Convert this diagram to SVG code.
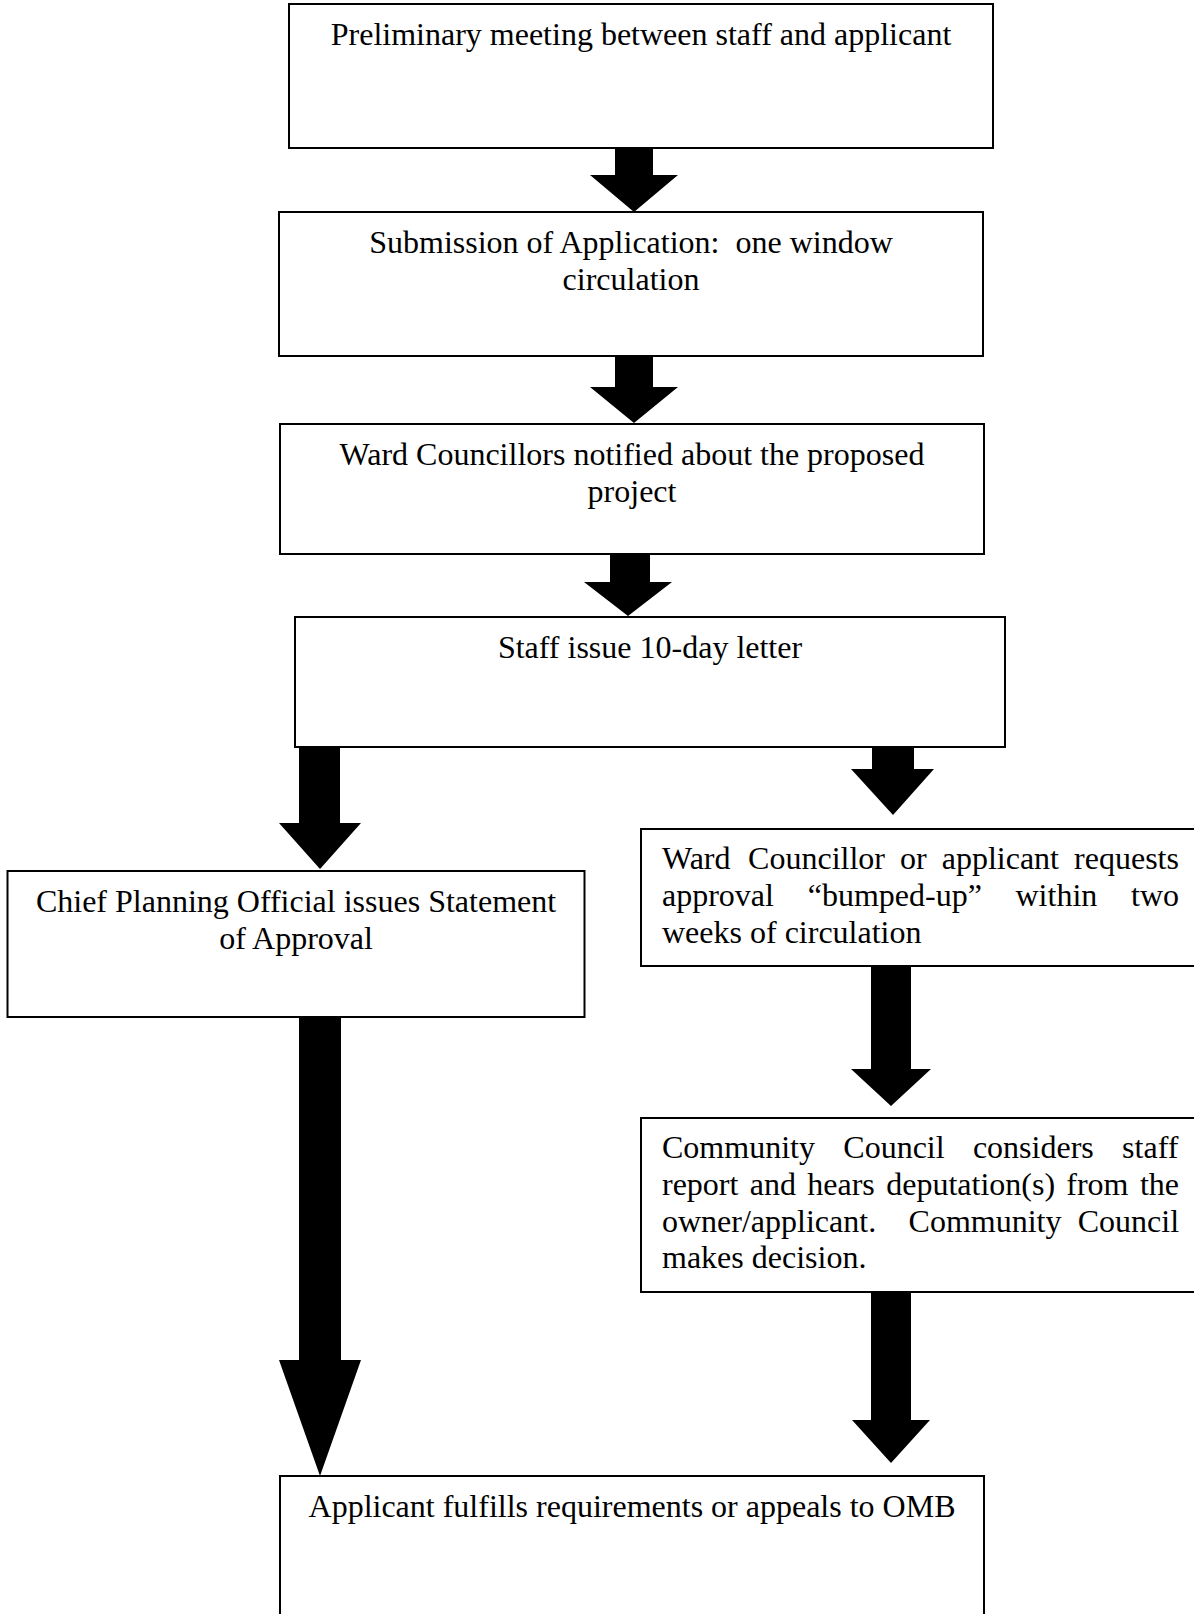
<svg xmlns="http://www.w3.org/2000/svg" width="1194" height="1614" viewBox="0 0 1194 1614">
<style>
.box{fill:#fff;stroke:#000;stroke-width:2}
.t{font-family:"Liberation Serif","Times New Roman",serif;font-size:32px;fill:#000}
.c{text-anchor:middle}
.arr{fill:#000;stroke:none}
</style>
<rect width="1194" height="1614" fill="#fff"/>
<g id="connectors">
<polygon class="arr" points="615,148 653,148 653,175 678,175 634,212 590,175 615,175"/>
<polygon class="arr" points="615,356 653,356 653,387 678,387 634,423 590,387 615,387"/>
<polygon class="arr" points="610,554 650,554 650,582 672,582 628,616 584,582 610,582"/>
<polygon class="arr" points="299,747 340,747 340,823 361,823 320,869 279,823 299,823"/>
<polygon class="arr" points="872,747 914,747 914,769 934,769 893,815 851,769 872,769"/>
<polygon class="arr" points="871,966 911,966 911,1069 931,1069 891,1106 851,1069 871,1069"/>
<polygon class="arr" points="299,1017 341,1017 341,1360 361,1360 320,1476 279,1360 299,1360"/>
<polygon class="arr" points="871,1292 911,1292 911,1420 930,1420 891,1463 852,1420 871,1420"/>
</g>
<g id="n1">
<rect class="box" x="289" y="4" width="704" height="144"/>
<text class="t c" x="641" y="45">Preliminary meeting between staff and applicant</text>
</g>
<g id="n2">
<rect class="box" x="279" y="212" width="704" height="144"/>
<text class="t c" x="631" y="253" xml:space="preserve">Submission of Application:  one window</text>
<text class="t c" x="631" y="290">circulation</text>
</g>
<g id="n3">
<rect class="box" x="280" y="424" width="704" height="130"/>
<text class="t c" x="632" y="465">Ward Councillors notified about the proposed</text>
<text class="t c" x="632" y="502">project</text>
</g>
<g id="n4">
<rect class="box" x="295" y="617" width="710" height="130"/>
<text class="t c" x="650" y="658">Staff issue 10-day letter</text>
</g>
<g id="n5">
<rect class="box" x="7.5" y="871" width="577" height="146"/>
<text class="t c" x="296" y="912">Chief Planning Official issues Statement</text>
<text class="t c" x="296" y="949">of Approval</text>
</g>
<g id="n6">
<rect class="box" x="641" y="829" width="570" height="137"/>
<text class="t" y="869"><tspan x="662">Ward</tspan><tspan x="748.1">Councillor</tspan><tspan x="900">or</tspan><tspan x="941.7">applicant</tspan><tspan x="1074.1">requests</tspan></text>
<text class="t" y="906"><tspan x="662">approval</tspan><tspan x="807.7">“bumped-up”</tspan><tspan x="1015.5">within</tspan><tspan x="1131">two</tspan></text>
<text class="t" x="662" y="943">weeks of circulation</text>
</g>
<g id="n7">
<rect class="box" x="641" y="1118" width="570" height="174"/>
<text class="t" y="1158"><tspan x="662">Community</tspan><tspan x="843.3">Council</tspan><tspan x="972.9">considers</tspan><tspan x="1122.1">staff</tspan></text>
<text class="t" y="1195"><tspan x="662">report</tspan><tspan x="749.8">and</tspan><tspan x="807.3">hears</tspan><tspan x="886.2">deputation(s)</tspan><tspan x="1066.3">from</tspan><tspan x="1139.9">the</tspan></text>
<text class="t" y="1232"><tspan x="662">owner/applicant.</tspan><tspan x="908.6">Community</tspan><tspan x="1077.7">Council</tspan></text>
<text class="t" x="662" y="1268">makes decision.</text>
</g>
<g id="n8">
<rect class="box" x="280" y="1476" width="704" height="150"/>
<text class="t c" x="632" y="1517">Applicant fulfills requirements or appeals to OMB</text>
</g>
</svg>
